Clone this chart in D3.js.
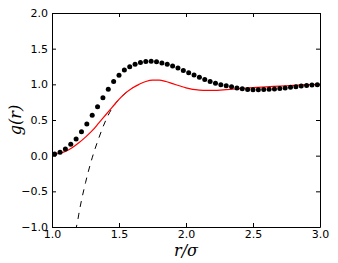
<!DOCTYPE html>
<html><head><meta charset="utf-8">
<script src="https://cdn.jsdelivr.net/npm/d3@7/dist/d3.min.js"></script>
<style>body{margin:0;background:#fff}svg{display:block}</style>
</head><body>
<script>
// Simulation points (black dots)
const dotR = [1.02,1.06,1.10,1.14,1.18,1.22,1.26,1.30,1.34,1.38,1.42,1.46,1.50,1.54,1.58,1.62,1.66,1.70,1.74,1.78,1.82,1.86,1.90,1.94,1.98,2.02,2.06,2.10,2.14,2.18,2.22,2.26,2.30,2.34,2.38,2.42,2.46,2.50,2.54,2.58,2.62,2.66,2.70,2.74,2.78,2.82,2.86,2.90,2.94,2.98];
const dotG = [0.024,0.048,0.094,0.16,0.234,0.337,0.445,0.567,0.687,0.813,0.931,1.038,1.128,1.20,1.245,1.28,1.305,1.32,1.325,1.315,1.30,1.28,1.256,1.228,1.195,1.162,1.13,1.098,1.068,1.04,1.015,0.995,0.98,0.966,0.95,0.937,0.929,0.925,0.925,0.927,0.93,0.935,0.942,0.95,0.958,0.966,0.975,0.984,0.99,0.995];
// Theory (red line)
const lineR = [1.00,1.05,1.10,1.15,1.20,1.25,1.30,1.35,1.40,1.45,1.50,1.55,1.60,1.65,1.70,1.75,1.80,1.85,1.90,1.95,2.00,2.05,2.10,2.15,2.20,2.30,2.40,2.50,2.60,2.70,2.80,2.90,3.00];
const lineG = [0.02,0.03,0.06,0.11,0.18,0.26,0.35,0.46,0.57,0.68,0.79,0.88,0.95,1.00,1.04,1.06,1.06,1.04,1.01,0.98,0.95,0.93,0.92,0.915,0.915,0.925,0.94,0.955,0.965,0.975,0.985,0.995,1.0];
// Approximation (dashed line)
const dashR = [1.175,1.19,1.20,1.25,1.30,1.35,1.40,1.45,1.50,1.55,1.60];
const dashG = [-1.05,-0.93,-0.82,-0.38,-0.03,0.25,0.49,0.67,0.79,0.88,0.95];
const xTicks = [1.0,1.5,2.0,2.5,3.0];
const yTicks = [-1.0,-0.5,0.0,0.5,1.0,1.5,2.0];

const W=338,H=263;
const m={left:52,right:18,top:13,bottom:36};
const svg=d3.select("body").append("svg").attr("width",W).attr("height",H);
const x=d3.scaleLinear().domain([1,3]).range([m.left,W-m.right]);
const y=d3.scaleLinear().domain([-1,2]).range([H-m.bottom,m.top]);
const fmt=v=>d3.format(".1f")(v).replace("-","\u2212");

svg.append("clipPath").attr("id","c").append("rect")
  .attr("x",m.left).attr("y",m.top).attr("width",x(3)-x(1)).attr("height",y(-1)-y(2));
const plot=svg.append("g").attr("clip-path","url(#c)");

plot.append("path").datum(dashR.map((r,i)=>[r,dashG[i]]))
  .attr("d",d3.line().x(d=>x(d[0])).y(d=>y(d[1])).curve(d3.curveMonotoneX))
  .attr("fill","none").attr("stroke","#000").attr("stroke-width",1).attr("stroke-dasharray","6,6");
plot.append("path").datum(lineR.map((r,i)=>[r,lineG[i]]))
  .attr("d",d3.line().x(d=>x(d[0])).y(d=>y(d[1])).curve(d3.curveMonotoneX))
  .attr("fill","none").attr("stroke","#ff0000").attr("stroke-width",1.2);
plot.selectAll("circle").data(dotR.map((r,i)=>[r,dotG[i]])).enter().append("circle")
  .attr("cx",d=>x(d[0])).attr("cy",d=>y(d[1])).attr("r",2.5).attr("fill","#000");

const axes=svg.append("g");
const font="'DejaVu Sans', sans-serif";
axes.append("g").attr("transform",`translate(0,${y(-1)})`)
  .call(d3.axisBottom(x).tickValues(xTicks).tickFormat(fmt).tickSizeInner(-4).tickSizeOuter(0).tickPadding(3));
axes.append("g").attr("transform",`translate(0,${y(2)})`)
  .call(d3.axisTop(x).tickValues(xTicks).tickFormat("").tickSizeInner(-4).tickSizeOuter(0));
axes.append("g").attr("transform",`translate(${x(1)},0)`)
  .call(d3.axisLeft(y).tickValues(yTicks).tickFormat(fmt).tickSizeInner(-4).tickSizeOuter(0).tickPadding(4));
axes.append("g").attr("transform",`translate(${x(3)},0)`)
  .call(d3.axisRight(y).tickValues(yTicks).tickFormat("").tickSizeInner(-4).tickSizeOuter(0));
axes.selectAll(".domain").attr("stroke","#000").attr("stroke-width",1);
axes.selectAll("text").attr("font-family",font).attr("font-size",11).attr("fill","#000");
axes.selectAll(".tick line").attr("stroke","#000");

svg.append("text").attr("x",(x(1)+x(3))/2).attr("y",256).attr("text-anchor","middle")
  .attr("font-family","'DejaVu Serif', serif").attr("font-style","italic").attr("font-size",16).text("r/σ");
svg.append("text").attr("transform",`translate(21,${(y(-1)+y(2))/2}) rotate(-90)`).attr("text-anchor","middle")
  .attr("font-family","'DejaVu Serif', serif").attr("font-style","italic").attr("font-size",16).text("g(r)");
</script>
</body></html>
